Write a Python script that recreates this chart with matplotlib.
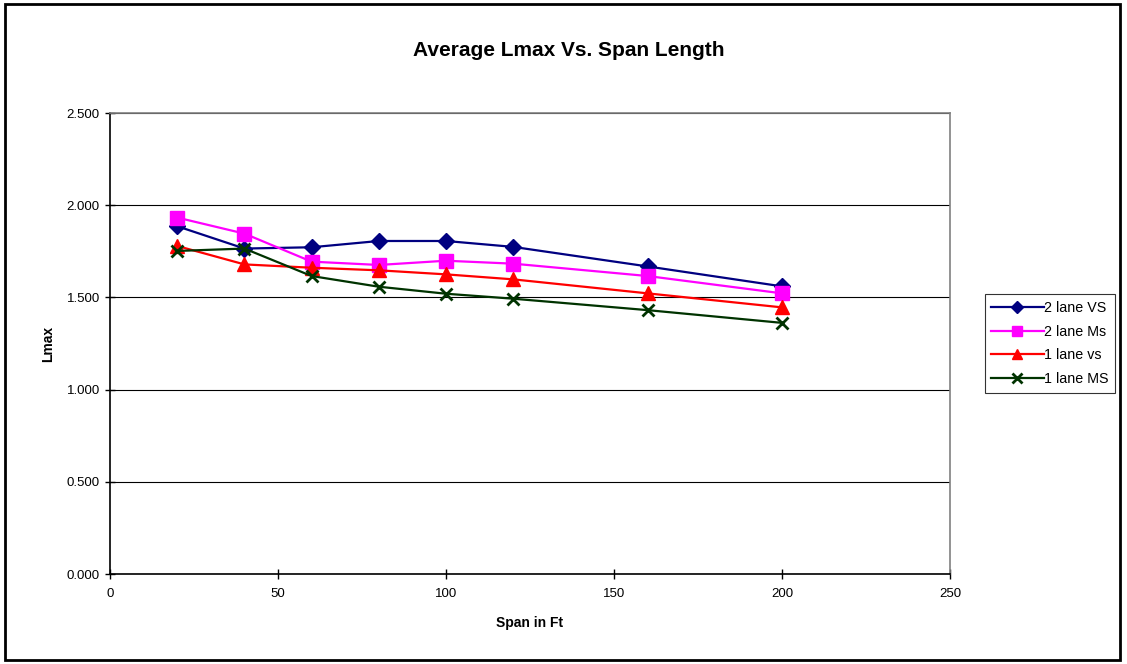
import numpy as np
import matplotlib.pyplot as plt
from matplotlib.patches import Rectangle

plt.rcParams['font.family'] = ['Liberation Sans', 'DejaVu Sans']

# data
span = [20, 40, 60, 80, 100, 120, 160, 200]
two_lane_vs = [1.886, 1.765, 1.772, 1.806, 1.806, 1.774, 1.668, 1.560]
two_lane_ms = [1.933, 1.846, 1.694, 1.676, 1.699, 1.683, 1.616, 1.522]
one_lane_vs = [1.779, 1.679, 1.661, 1.647, 1.625, 1.598, 1.522, 1.446]
one_lane_ms = [1.752, 1.765, 1.616, 1.558, 1.520, 1.493, 1.431, 1.362]
labels = ['2 lane VS', '2 lane Ms', '1 lane vs', '1 lane MS']

fig = plt.figure(figsize=(11.27, 6.64), dpi=100)
ax = fig.add_axes([0.0976, 0.1355, 0.843 - 0.0976, 0.8298 - 0.1355])

ax.plot(span, two_lane_vs, color='#000080', lw=1.6, marker='D', ms=8, label=labels[0])
ax.plot(span, two_lane_ms, color='#FF00FF', lw=1.6, marker='s', ms=9.5, label=labels[1])
ax.plot(span, one_lane_vs, color='#FF0000', lw=1.6, marker='^', ms=9.5, label=labels[2])
ax.plot(span, one_lane_ms, color='#003300', lw=1.6, marker='x', ms=9, mew=2, label=labels[3])

ax.set_xlim(0, 250)
ax.set_ylim(0, 2.5)
ax.set_xticks([0, 50, 100, 150, 200, 250])
ax.set_yticks(np.arange(0, 2.51, 0.5))
ax.set_yticklabels(['%.3f' % v for v in np.arange(0, 2.51, 0.5)])
ax.yaxis.grid(True, color='black', lw=0.8)
ax.set_axisbelow(True)
ax.tick_params(labelsize=9.5, length=6.5, width=1, color='black', direction='inout')
ax.tick_params(axis='y', pad=4)
ax.tick_params(axis='x', pad=7)
for s in ['left', 'bottom']:
    ax.spines[s].set_color('black')
    ax.spines[s].set_linewidth(1.2)
for s in ['top', 'right']:
    ax.spines[s].set_color('#808080')
    ax.spines[s].set_linewidth(1.2)

fig.text(569 / 1127, 1 - 50 / 664, 'Average Lmax Vs. Span Length', fontsize=15,
         fontweight='bold', ha='center', va='center')
ax.set_xlabel('Span in Ft', fontsize=10, fontweight='bold', labelpad=11)
ax.set_ylabel('Lmax', fontsize=10, fontweight='bold', labelpad=8)

leg = ax.legend(loc='center left', bbox_to_anchor=(1.041, 0.5), fontsize=10.3, frameon=True,
                fancybox=False, edgecolor='black', borderpad=0.45, labelspacing=0.68,
                handlelength=3.7, handletextpad=0.0, borderaxespad=0, markerscale=0.75)
leg.get_frame().set_linewidth(0.8)

# outer chart border
fig.patches.append(Rectangle((0.004, 0.006), 0.99, 0.988, transform=fig.transFigure,
                             fill=False, edgecolor='black', lw=2))

fig.savefig('out.png', dpi=100)
